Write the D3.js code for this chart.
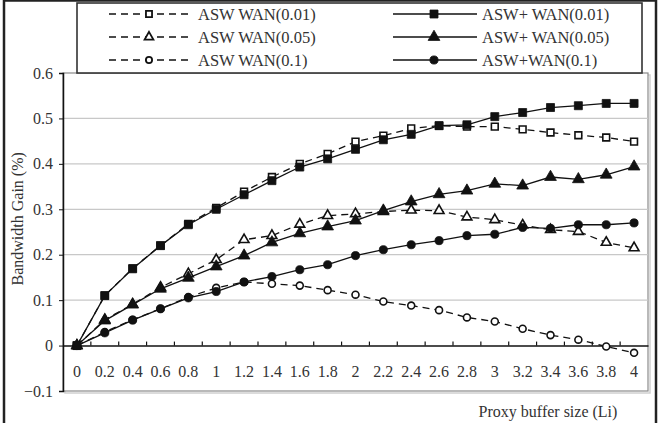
<!DOCTYPE html>
<html>
<head>
<meta charset="utf-8">
<script src="https://cdn.jsdelivr.net/npm/d3@7"></script>
<style>
  body { margin: 0; background: #fff; }
  svg text { font-family: "Liberation Serif", "DejaVu Serif", serif; fill: #333; }
</style>
</head>
<body>
<div id="chart"></div>
<script>
// categories (proxy buffer size, Li)
const xLabels = ["0", "0.2", "0.4", "0.6", "0.8", "1", "1.2", "1.4", "1.6", "1.8", "2",
                 "2.2", "2.4", "2.6", "2.8", "3", "3.2", "3.4", "3.6", "3.8", "4"];
const yTicks = [-0.1, 0, 0.1, 0.2, 0.3, 0.4, 0.5, 0.6];

// series values
const aswWan001 = [0, 0.11, 0.17, 0.22, 0.268, 0.303, 0.339, 0.371, 0.40, 0.422, 0.449,
                   0.462, 0.478, 0.484, 0.482, 0.482, 0.476, 0.469, 0.463, 0.458, 0.449];
const aswWan005 = [0, 0.057, 0.091, 0.128, 0.158, 0.189, 0.233, 0.242, 0.267, 0.286, 0.29,
                   0.295, 0.298, 0.297, 0.283, 0.277, 0.265, 0.255, 0.251, 0.227, 0.215];
const aswWan01 = [0, 0.03, 0.057, 0.081, 0.107, 0.127, 0.14, 0.136, 0.132, 0.122, 0.112,
                  0.097, 0.088, 0.078, 0.062, 0.053, 0.037, 0.023, 0.013, -0.002, -0.016];
const aswPlusWan001 = [0, 0.11, 0.169, 0.22, 0.266, 0.30, 0.332, 0.363, 0.393, 0.411, 0.432,
                       0.453, 0.465, 0.484, 0.486, 0.504, 0.513, 0.524, 0.528, 0.533, 0.533];
const aswPlusWan005 = [0, 0.055, 0.09, 0.125, 0.149, 0.174, 0.198, 0.227, 0.247, 0.262, 0.275,
                       0.297, 0.317, 0.333, 0.341, 0.356, 0.352, 0.371, 0.366, 0.376, 0.394];
const aswPlusWan01 = [0, 0.028, 0.056, 0.081, 0.105, 0.119, 0.14, 0.152, 0.167, 0.178, 0.198,
                      0.211, 0.222, 0.231, 0.242, 0.245, 0.26, 0.258, 0.266, 0.266, 0.27];

const seriesNames = ["ASW WAN(0.01)", "ASW WAN(0.05)", "ASW WAN(0.1)",
                     "ASW+ WAN(0.01)", "ASW+ WAN(0.05)", "ASW+WAN(0.1)"];

const series = [
    {name: seriesNames[0], values: aswWan001, symbol: d3.symbolSquare, size: 46, open: true},
    {name: seriesNames[1], values: aswWan005, symbol: d3.symbolTriangle, size: 42, open: true},
    {name: seriesNames[2], values: aswWan01, symbol: d3.symbolCircle, size: 38, open: true},
    {name: seriesNames[3], values: aswPlusWan001, symbol: d3.symbolSquare, size: 64, open: false},
    {name: seriesNames[4], values: aswPlusWan005, symbol: d3.symbolTriangle, size: 60, open: false},
    {name: seriesNames[5], values: aswPlusWan01, symbol: d3.symbolCircle, size: 52, open: false}
];

const W = 659, H = 423;
const plot = {left: 63, right: 648, top: 73, bottom: 391};

const svg = d3.select("#chart").append("svg")
    .attr("width", W)
    .attr("height", H);

// outer frame
svg.append("rect")
    .attr("x", 4).attr("y", 0.5)
    .attr("width", 652).attr("height", H + 10)
    .attr("fill", "none")
    .attr("stroke", "#222")
    .attr("stroke-width", 2.5);

// scales
const x = d3.scaleBand()
    .domain(xLabels)
    .range([plot.left, plot.right])
    .padding(0);
const y = d3.scaleLinear()
    .domain([-0.1, 0.6])
    .range([plot.bottom, plot.top]);
const cx = d => x(d) + x.bandwidth() / 2;

// plot area shadow + border
svg.append("rect")
    .attr("x", plot.left + 2).attr("y", plot.top + 2)
    .attr("width", plot.right - plot.left).attr("height", plot.bottom - plot.top)
    .attr("fill", "none").attr("stroke", "#d0d0d0").attr("stroke-width", 1.5);
svg.append("rect")
    .attr("x", plot.left).attr("y", plot.top)
    .attr("width", plot.right - plot.left).attr("height", plot.bottom - plot.top)
    .attr("fill", "#fff").attr("stroke", "#8a8a8a").attr("stroke-width", 1.2);

// gridlines
svg.append("g")
    .selectAll("line")
    .data(yTicks.filter(v => v > 0 && v < 0.6))
    .join("line")
    .attr("x1", plot.left).attr("x2", plot.right)
    .attr("y1", d => y(d)).attr("y2", d => y(d))
    .attr("stroke", "#c8c8c8").attr("stroke-width", 1.2);

// y axis
const yAxis = d3.axisLeft(y)
    .tickValues(yTicks)
    .tickSize(4)
    .tickPadding(6)
    .tickFormat(d => Math.abs(d) < 1e-9 ? "0" : d3.format(".1f")(d));
svg.append("g")
    .attr("transform", `translate(${plot.left},0)`)
    .call(yAxis)
    .call(g => g.select(".domain").attr("stroke", "#111").attr("stroke-width", 1.5))
    .call(g => g.selectAll(".tick line").attr("stroke", "#111"))
    .call(g => g.selectAll(".tick text")
        .style("font-size", "16px")
        .attr("fill", "#444"));

// x axis at zero: line, ticks between categories pointing up, labels below
const xAxis = d3.axisBottom(x).tickSize(0).tickPadding(20);
svg.append("g")
    .attr("transform", `translate(0,${y(0)})`)
    .call(xAxis)
    .call(g => g.select(".domain").attr("stroke", "#111").attr("stroke-width", 1.5))
    .call(g => g.selectAll(".tick text")
        .style("font-size", "16px")
        .attr("fill", "#444"));
svg.append("g")
    .selectAll("line")
    .data(xLabels.slice(1))
    .join("line")
    .attr("x1", d => x(d)).attr("x2", d => x(d))
    .attr("y1", y(0)).attr("y2", y(0) - 4)
    .attr("stroke", "#111").attr("stroke-width", 1.2);

// axis titles
svg.append("text")
    .attr("transform", `translate(23,${(plot.top + y(-0.02)) / 2 + 5}) rotate(-90)`)
    .attr("text-anchor", "middle")
    .style("font-size", "16px")
    .attr("fill", "#444")
    .text("Bandwidth Gain (%)");

svg.append("text")
    .attr("x", 548).attr("y", 417)
    .attr("text-anchor", "middle")
    .style("font-size", "16px")
    .attr("fill", "#444")
    .text("Proxy buffer size (Li)");

// lines
const line = d3.line()
    .x((d, i) => cx(xLabels[i]))
    .y(d => y(d));

const gSeries = svg.append("g");
series.forEach(s => {
    gSeries.append("path")
        .datum(s.values)
        .attr("fill", "none")
        .attr("stroke", "#111")
        .attr("stroke-width", 1.3)
        .attr("stroke-dasharray", s.open ? "7,5" : null)
        .attr("d", line);
});

// markers (open series first, filled on top)
series.forEach(s => {
    gSeries.append("g")
        .selectAll("path")
        .data(s.values)
        .join("path")
        .attr("transform", (d, i) => `translate(${cx(xLabels[i])},${y(d)})`)
        .attr("d", d3.symbol().type(s.symbol).size(s.size))
        .attr("fill", s.open ? "#fff" : "#111")
        .attr("stroke", "#111")
        .attr("stroke-width", s.open ? 1.6 : 0.8);
});

// legend
const legend = svg.append("g");
legend.append("rect")
    .attr("x", 77).attr("y", 3)
    .attr("width", 565).attr("height", 70)
    .attr("fill", "#fff")
    .attr("stroke", "#333")
    .attr("stroke-width", 1.6);

const rowY = [14, 37, 60];
series.forEach((s, k) => {
    const col = s.open ? 0 : 1;
    const row = k % 3;
    const x0 = col === 0 ? 109 : 393;
    const x1 = col === 0 ? 188 : 477;
    const mx = col === 0 ? 149 : 434;
    const tx = col === 0 ? 198 : 482;
    const yy = rowY[row];
    legend.append("line")
        .attr("x1", x0).attr("x2", x1)
        .attr("y1", yy).attr("y2", yy)
        .attr("stroke", "#111")
        .attr("stroke-width", 1.3)
        .attr("stroke-dasharray", s.open ? "7,5" : null);
    legend.append("path")
        .attr("transform", `translate(${mx},${yy})`)
        .attr("d", d3.symbol().type(s.symbol).size(s.open ? s.size * 0.8 : s.size))
        .attr("fill", s.open ? "#fff" : "#111")
        .attr("stroke", "#111")
        .attr("stroke-width", s.open ? 1.8 : 0.8);
    legend.append("text")
        .attr("x", tx).attr("y", yy + 6)
        .style("font-size", "16.5px")
        .attr("fill", "#444")
        .text(s.name);
});
</script>
</body>
</html>
